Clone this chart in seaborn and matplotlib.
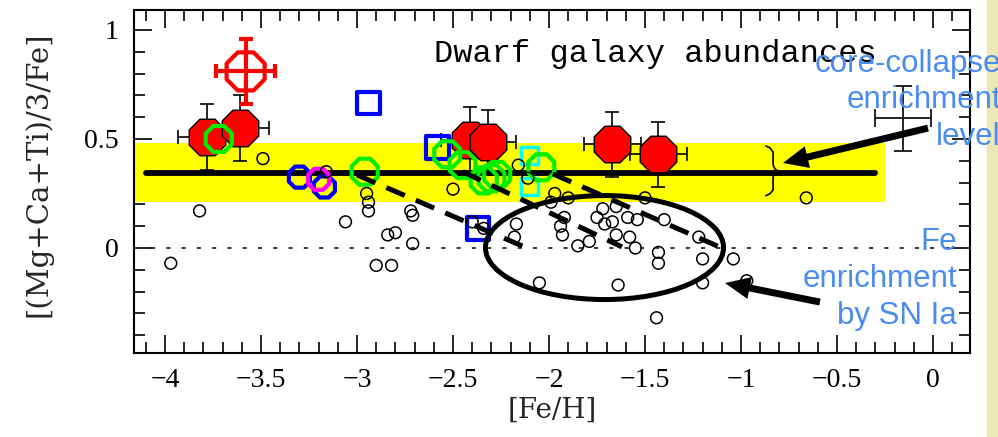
import matplotlib
matplotlib.use("Agg")
import numpy as np
import pandas as pd
import matplotlib.pyplot as plt
import seaborn as sns
from matplotlib.patches import Ellipse, Rectangle
from matplotlib.ticker import FixedLocator, MultipleLocator

# ---------------- data ----------------
# individual dwarf-galaxy stars (small open circles)
star_feh = [-3.97, -3.82, -3.49, -3.16, -3.06, -2.95, -2.94, -2.94, -2.72, -2.71,
            -2.84, -2.80, -2.71, -2.90, -2.82, -2.50, -2.40, -2.34, -2.16, -2.11,
            -1.97, -1.90, -1.99, -2.17, -2.18, -1.92, -1.94, -1.93, -1.79, -1.85,
            -1.72, -1.75, -1.71, -1.67, -1.65, -1.65, -1.59, -1.54, -1.58, -1.55,
            -1.50, -1.40, -1.43, -1.43, -1.22, -1.20, -1.04, -1.20, -0.97, -1.44,
            -2.05, -1.64, -0.66]
star_alpha = [-0.07, 0.17, 0.41, 0.35, 0.12, 0.25, 0.21, 0.17, 0.17, 0.15,
              0.06, 0.07, 0.02, -0.08, -0.08, 0.27, 0.12, 0.09, 0.38, 0.32,
              0.25, 0.23, 0.21, 0.11, 0.05, 0.14, 0.10, 0.06, 0.03, 0.01,
              0.18, 0.14, 0.11, 0.12, 0.06, 0.19, 0.14, 0.13, 0.05, 0.00,
              0.23, 0.13, -0.02, -0.07, 0.05, -0.05, -0.05, -0.16, -0.15, -0.32,
              -0.16, -0.17, 0.23]

# filled red octagons with error bars
red_feh = [-3.78, -3.61, -2.41, -2.32, -1.67, -1.43]
red_alpha = [0.51, 0.55, 0.495, 0.485, 0.475, 0.43]
red_feh_err = [0.15, 0.15, 0.15, 0.15, 0.15, 0.15]
red_alpha_err = [0.15, 0.15, 0.15, 0.15, 0.15, 0.15]

# open red octagon with red error bars
ured_feh = [-3.58]
ured_alpha = [0.81]
ured_feh_err = [0.155]
ured_alpha_err = [0.15]

# other samples
blue_sq_feh = [-2.94, -2.58, -2.37]
blue_sq_alpha = [0.665, 0.46, 0.09]
blue_oct_feh = [-3.30, -3.17]
blue_oct_alpha = [0.325, 0.28]
mag_feh = [-3.20]
mag_alpha = [0.315]
green_feh = [-3.72, -2.96, -2.53, -2.45, -2.34, -2.30, -2.27, -2.04]
green_alpha = [0.50, 0.35, 0.43, 0.38, 0.31, 0.32, 0.335, 0.37]
cyan_feh = [-2.10, -2.10]
cyan_alpha = [0.425, 0.28]

# core-collapse plateau and its spread
plateau_level = 0.345
plateau_lo, plateau_hi = 0.21, 0.48
plateau_line_feh = [-4.10, -0.30]
band_feh = [-4.2, -0.25]

# declining sequences
seq_a_feh, seq_a_alpha = [-3.00, -2.115], [0.335, 0.0]
seq_b_feh, seq_b_alpha = [-2.45, -1.62], [0.35, 0.005]
seq_c_feh, seq_c_alpha = [-1.98, -1.10], [0.34, 0.0]

# typical uncertainty
typ_feh, typ_alpha = [-0.156], [0.596]
typ_feh_err, typ_alpha_err = [0.148], [0.149]

x_ticks = [-4, -3.5, -3, -2.5, -2, -1.5, -1, -0.5, 0]
x_ticklabels = ["\u22124", "\u22123.5", "\u22123", "\u22122.5", "\u22122",
                "\u22121.5", "\u22121", "\u22120.5", "0"]
y_ticks = [0, 0.5, 1]
y_ticklabels = ["0", "0.5", "1"]

# ---------------- style ----------------
sns.set_style("ticks")
plt.rcParams["font.family"] = ["DejaVu Serif"]
plt.rcParams["text.color"] = "black"
plt.rcParams["axes.edgecolor"] = "black"
plt.rcParams["xtick.color"] = "black"
plt.rcParams["ytick.color"] = "black"

W, H = 998, 437
fig = plt.figure(figsize=(W / 100, H / 100), dpi=100)
fig.add_artist(Rectangle((987 / W, 0), 11 / W, 1, transform=fig.transFigure,
                         color="#ece8b6", zorder=0))
ax = fig.add_axes([134 / W, 84 / H, 836 / W, 343 / H])
ax.set_xlim(-4.1615, 0.1927)
ax.set_ylim(-0.4817, 1.0917)

# plateau band and level
ax.fill_between(band_feh, [plateau_lo] * 2, [plateau_hi] * 2,
                color="#ffff00", lw=0, zorder=1)
ax.axhline(0, xmin=0.02, xmax=0.99, color="black", lw=1.1,
           linestyle=(0, (2.7, 7.3)), zorder=1.5)
sns.lineplot(x=plateau_line_feh, y=[plateau_level] * 2, color="black", lw=4.2,
             ax=ax, zorder=2)

# brace marking the spread of the plateau
bx = -0.833
b_top, b_bot = plateau_hi - 0.012, plateau_lo + 0.03
brace_x = [bx - 0.037, bx - 0.016, bx, bx, bx + 0.010, bx + 0.026, bx + 0.010,
           bx, bx, bx - 0.016, bx - 0.037]
brace_y = [b_top, b_top - 0.009, b_top - 0.028, plateau_level + 0.036,
           plateau_level + 0.017, plateau_level + 0.008, plateau_level - 0.001,
           plateau_level - 0.019, b_bot + 0.027, b_bot + 0.009, b_bot]
ax.plot(brace_x, brace_y, color="black", lw=1.2, zorder=2)

# red octagons with errors
ax.errorbar(red_feh, red_alpha, xerr=red_feh_err, yerr=red_alpha_err, fmt="none",
            ecolor="black", elinewidth=1.2, capsize=4.7, capthick=1.2, zorder=3)
sns.scatterplot(x=red_feh, y=red_alpha, marker="8", s=810, color="#ff0000",
                edgecolor="black", linewidth=1.0, ax=ax, zorder=3.2)
ax.errorbar(ured_feh, ured_alpha, xerr=ured_feh_err, yerr=ured_alpha_err, fmt="none",
            ecolor="#ff0000", elinewidth=3, capsize=5, capthick=3, zorder=3.3)
sns.scatterplot(x=ured_feh, y=ured_alpha, marker="8", s=880, facecolors="none",
                edgecolor="#ff0000", linewidth=3, ax=ax, zorder=3.4)

# other samples
sns.scatterplot(x=blue_sq_feh, y=blue_sq_alpha, marker="s", s=270, facecolors="none",
                edgecolor="#0000ff", linewidth=3, ax=ax, zorder=4)
sns.scatterplot(x=blue_oct_feh, y=blue_oct_alpha, marker="8", s=270, facecolors="none",
                edgecolor="#0000ff", linewidth=3, ax=ax, zorder=4)
sns.scatterplot(x=mag_feh, y=mag_alpha, marker="8", s=270, facecolors="none",
                edgecolor="#ff00ff", linewidth=3, ax=ax, zorder=4.1)
sns.scatterplot(x=cyan_feh, y=cyan_alpha, marker="s", s=150, facecolors="none",
                edgecolor="#00ffff", linewidth=2.5, ax=ax, zorder=4)
sns.scatterplot(x=green_feh, y=green_alpha, marker="8", s=410, facecolors="none",
                edgecolor="#00ee00", linewidth=3, ax=ax, zorder=4.2)

# individual stars
sns.scatterplot(x=star_feh, y=star_alpha, marker="o", s=72, facecolors="none",
                edgecolor="black", linewidth=1.1, ax=ax, zorder=5)

# declining sequences
for fx, fy in [(seq_a_feh, seq_a_alpha), (seq_b_feh, seq_b_alpha),
               (seq_c_feh, seq_c_alpha)]:
    ax.plot(fx, fy, color="black", lw=3.6, linestyle=(0, (4.0, 2.4)), zorder=6)

# region dominated by SN Ia iron
ax.add_patch(Ellipse((-1.711, 0.002), 1.24, 0.477, fill=False, ec="black",
                     lw=3.6, zorder=6))

# typical uncertainty
ax.errorbar(typ_feh, typ_alpha, xerr=typ_feh_err, yerr=typ_alpha_err, fmt="none",
            ecolor="black", elinewidth=1.2, capsize=6.5, capthick=1.2, zorder=6)

# arrows
arrow_style = "simple,head_length=0.9,head_width=0.8,tail_width=0.25"
ax.annotate("", xy=(-0.781, 0.390), xytext=(-0.026, 0.550),
            arrowprops=dict(arrowstyle=arrow_style, mutation_scale=20, fc="black",
                            ec="black", lw=0, shrinkA=0, shrinkB=0), zorder=7)
ax.annotate("", xy=(-1.083, -0.161), xytext=(-0.589, -0.248),
            arrowprops=dict(arrowstyle=arrow_style, mutation_scale=20, fc="black",
                            ec="black", lw=0, shrinkA=0, shrinkB=0), zorder=7)

# axes, ticks, labels
ax.xaxis.set_major_locator(FixedLocator(x_ticks))
ax.yaxis.set_major_locator(FixedLocator(y_ticks))
ax.xaxis.set_minor_locator(MultipleLocator(0.1))
ax.yaxis.set_minor_locator(MultipleLocator(0.1))
ax.set_xticklabels(x_ticklabels, fontfamily="Liberation Serif")
ax.set_yticklabels(y_ticklabels, fontfamily="Liberation Serif")
ax.tick_params(which="both", direction="in", top=True, right=True, width=1.2,
               labelsize=20, pad=11)
ax.tick_params(which="major", length=13)
ax.tick_params(which="minor", length=8)
for sp in ax.spines.values():
    sp.set_linewidth(1.5)
    sp.set_color("black")

ax.set_xlabel("[Fe/H]", fontsize=20, family="DejaVu Serif")
ax.set_ylabel("[(Mg+Ca+Ti)/3/Fe]", fontsize=21, family="DejaVu Serif")
ax.xaxis.set_label_coords(0.5, -0.128)
ax.xaxis.label.set_va("top")
ax.yaxis.set_label_coords(-0.098, 0.522)

ax.text(0.359, 0.848, "Dwarf galaxy abundances", transform=ax.transAxes,
        family="Liberation Mono", fontsize=23, va="baseline", ha="left", zorder=8)

blue = "#4a8cf0"
for txt, yb in [("core-collapse", 72), ("enrichment", 108), ("level", 145)]:
    fig.text(1001 / W, 1 - yb / H, txt, color=blue, fontsize=22.5,
             family="Liberation Sans", ha="right", va="baseline", zorder=9)
for txt, yb in [("Fe", 250), ("enrichment", 287), ("by SN Ia", 324)]:
    fig.text(957 / W, 1 - yb / H, txt, color=blue, fontsize=22.5,
             family="Liberation Sans", ha="right", va="baseline", zorder=9)

fig.savefig("out.png", dpi=100)
